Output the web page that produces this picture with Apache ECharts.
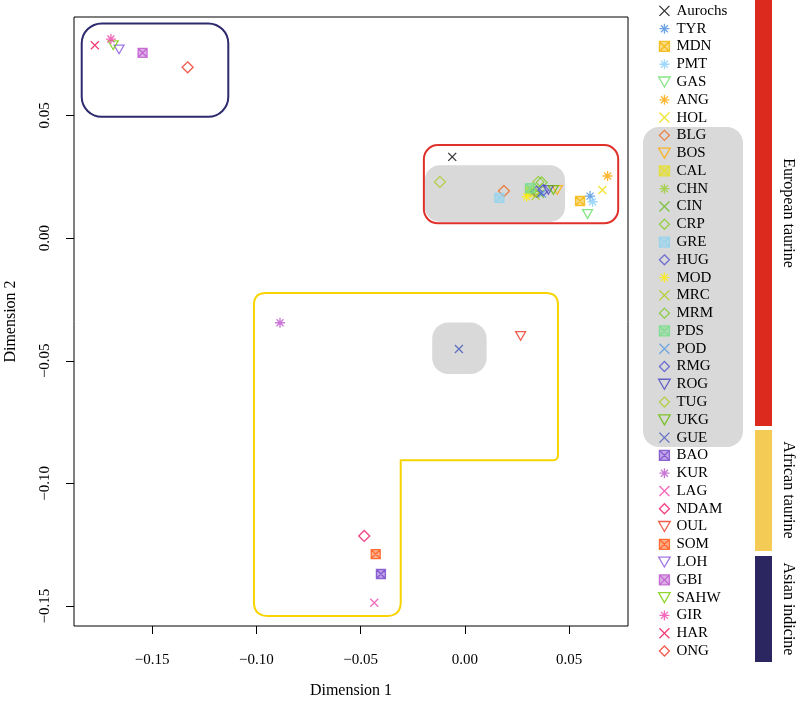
<!DOCTYPE html>
<html><head><meta charset="utf-8">
<script src="https://cdn.jsdelivr.net/npm/echarts@6/dist/echarts.min.js"></script>
<style>html,body{margin:0;padding:0;background:#fff}#c{width:797px;height:702px}</style>
</head><body><div id="c"></div>
<script>
// ---------- data ----------
const breeds = ['Aurochs','TYR','MDN','PMT','GAS','ANG','HOL','BLG','BOS','CAL','CHN','CIN','CRP','GRE','HUG','MOD','MRC','MRM','PDS','POD','RMG','ROG','TUG','UKG','GUE','BAO','KUR','LAG','NDAM','OUL','SOM','LOH','GBI','SAHW','GIR','HAR','ONG'];
const dim1 = [-0.0061,0.0600,0.0552,0.0612,0.0588,0.0684,0.0659,0.0187,0.0443,0.0312,0.0330,0.0360,0.0352,0.0165,0.0344,0.0296,0.0340,0.0368,0.0312,0.0370,0.0376,0.0400,-0.0120,0.0424,-0.0029,-0.0403,-0.0887,-0.0435,-0.0483,0.0267,-0.0428,-0.1659,-0.1546,-0.1687,-0.1698,-0.1775,-0.1330];
const dim2 = [0.0331,0.0171,0.0151,0.0148,0.0098,0.0253,0.0196,0.0192,0.0196,0.0190,0.0190,0.0180,0.0229,0.0164,0.0189,0.0168,0.0172,0.0227,0.0203,0.0182,0.0196,0.0196,0.0229,0.0196,-0.0452,-0.1369,-0.0345,-0.1486,-0.1214,-0.0399,-0.1288,0.0769,0.0755,0.0786,0.0811,0.0786,0.0696];
const shapes = ['cross','star','boxx','star','tri','star','cross','diam','tri','boxx','star','cross','diam','boxx','diam','star','cross','diam','boxx','cross','diam','tri','diam','tri','cross','boxx','star','cross','diam','tri','boxx','tri','boxx','tri','star','cross','diam'];
const colors = ['#000000','#4a8fe0','#f5b400','#87cefa','#66dd66','#ffa500','#eedd00','#ee6a20','#ffaa00','#e6e020','#9acd32','#66bb22','#88cc22','#8fd3f0','#5555cc','#ffee00','#aacc00','#77cc22','#77dd88','#5599dd','#5555cc','#4444bb','#aacc22','#66bb00','#4455bb','#7744cc','#bb55cc','#ee44aa','#ee1166','#ee3322','#ff5511','#8855dd','#bb55cc','#77cc00','#ee44aa','#ee1155','#ee3322'];
const xTicks = [-0.15,-0.10,-0.05,0,0.05];
const yTicks = [-0.15,-0.10,-0.05,0,0.05];
const groupLabels = ['European taurine','African taurine','Asian indicine'];

// ---------- styling ----------
const FONT = 'Liberation Serif';
const X_MIN = -0.1875, X_MAX = 0.0782, Y_MIN = -0.1581, Y_MAX = 0.0901;
const SYMBOLS = {
  cross: 'path://M0 0L10 10M0 10L10 0',
  star: 'path://M0 5L10 5M5 0L5 10M1.5 1.5L8.5 8.5M1.5 8.5L8.5 1.5',
  boxx: 'path://M0 0L10 0L10 10L0 10ZM0 0L10 10M0 10L10 0',
  tri: 'path://M0 0L10 0L5 8.66Z',
  diam: 'path://M5 0L10 5L5 10L0 5Z'
};
const SIZES = {cross:8, star:10, boxx:9, tri:10, diam:11};
const fmt = v => (v < 0 ? '\u2212' : '') + Math.abs(v).toFixed(2);

const option = {
  animation: false,
  grid: {left:74, right:169, top:17, bottom:76, show:true, borderColor:'#000', borderWidth:1, backgroundColor:'transparent', z:0, outerBoundsMode:'none', containLabel:false},
  xAxis: {type:'value', min:X_MIN, max:X_MAX, splitLine:{show:false}, axisLine:{show:false, onZero:false},
    axisTick:{show:true, inside:false, length:8, customValues:xTicks, lineStyle:{color:'#000'}},
    axisLabel:{customValues:xTicks, formatter:fmt, margin:27, fontFamily:FONT, fontSize:15, color:'#000'},
    name:'Dimension 1', nameLocation:'middle', nameGap:57, nameTextStyle:{fontFamily:FONT, fontSize:16, color:'#000'}},
  yAxis: {type:'value', min:Y_MIN, max:Y_MAX, splitLine:{show:false}, axisLine:{show:false, onZero:false},
    axisTick:{show:true, inside:false, length:8, customValues:yTicks, lineStyle:{color:'#000'}},
    axisLabel:{customValues:yTicks, formatter:fmt, rotate:90, margin:21, fontFamily:FONT, fontSize:15, color:'#000'},
    name:'Dimension 2', nameLocation:'middle', nameGap:55, nameTextStyle:{fontFamily:FONT, fontSize:16, color:'#000'}},
  legend: {orient:'vertical', left:658, top:2, padding:0, itemGap:0, itemWidth:14, itemHeight:10, selectedMode:false,
    textStyle:{fontFamily:FONT, fontSize:15, color:'#000', lineHeight:17.78}, itemStyle:{borderWidth:1.3}, data:breeds, z:5},
  series: breeds.map((b,i)=>({
    type:'scatter', name:b, data:[[dim1[i], dim2[i]]],
    symbol:SYMBOLS[shapes[i]], symbolSize:SIZES[shapes[i]], symbolKeepAspect:true,
    itemStyle:{color: shapes[i]==='boxx' ? colors[i]+'99' : 'rgba(0,0,0,0)', borderColor:colors[i], borderWidth:1.3},
    emphasis:{disabled:true}, z:5
  }))
};

const chart = echarts.init(document.getElementById('c'), null, {renderer:'canvas'});
chart.setOption(option);

// ---------- annotation shapes (data coords) ----------
function px(p){ return chart.convertToPixel({gridIndex:0}, p); }
function roundedPoints(pts, radii){
  const n = pts.length, out = [];
  for (let i=0;i<n;i++){
    const p = pts[i], a = pts[(i-1+n)%n], b = pts[(i+1)%n], r = radii[i];
    if (!r){ out.push([p[0],p[1]]); continue; }
    const da = Math.hypot(a[0]-p[0], a[1]-p[1]), db = Math.hypot(b[0]-p[0], b[1]-p[1]);
    const s = [p[0]+(a[0]-p[0])*r/da, p[1]+(a[1]-p[1])*r/da];
    const e = [p[0]+(b[0]-p[0])*r/db, p[1]+(b[1]-p[1])*r/db];
    const N = 10;
    for (let k=0;k<=N;k++){
      const t = k/N, u = 1-t;
      out.push([u*u*s[0]+2*u*t*p[0]+t*t*e[0], u*u*s[1]+2*u*t*p[1]+t*t*e[1]]);
    }
  }
  return out;
}
function rr(x1,y1,x2,y2,r){
  const a = px([x1,y1]), b = px([x2,y2]);
  return {x:Math.min(a[0],b[0]), y:Math.min(a[1],b[1]), width:Math.abs(b[0]-a[0]), height:Math.abs(b[1]-a[1]), r:r};
}

const graphics = [];
// gray fills
graphics.push({type:'rect', z:1, shape: rr(-0.0192,0.0297,0.0480,0.0066,15), style:{fill:'#d9d9d9'}});
graphics.push({type:'rect', z:1, shape: rr(-0.0157,-0.0344,0.0104,-0.0554,16), style:{fill:'#d9d9d9'}});
// outlines
graphics.push({type:'rect', z:2, shape: rr(-0.1838,0.0875,-0.1135,0.0494,20), style:{fill:null, stroke:'#2e2a6e', lineWidth:2}});
graphics.push({type:'rect', z:2, shape: rr(-0.0197,0.0379,0.0735,0.0060,14), style:{fill:null, stroke:'#e0302a', lineWidth:2}});
const yellowPts = [[-0.1012,-0.0224],[0.0446,-0.0224],[0.0446,-0.0905],[-0.0308,-0.0905],[-0.0308,-0.1540],[-0.1012,-0.1540]].map(px);
graphics.push({type:'polygon', z:2, shape:{points: roundedPoints(yellowPts,[12,12,5,0,14,14])}, style:{fill:null, stroke:'#f7d400', lineWidth:2}});
// legend gray box
graphics.push({type:'rect', z:1, shape:{x:643, y:127, width:100, height:320, r:16}, style:{fill:'#d9d9d9'}});
// group bars
graphics.push({type:'rect', z:1, shape:{x:755, y:0, width:17, height:426}, style:{fill:'#dc2a1e'}});
graphics.push({type:'rect', z:1, shape:{x:755, y:430, width:17, height:121}, style:{fill:'#f4cc55'}});
graphics.push({type:'rect', z:1, shape:{x:755, y:556, width:17, height:106}, style:{fill:'#2b2660'}});
const labelY = [213, 490, 609];
groupLabels.forEach((t,i)=>{
  graphics.push({type:'text', z:3, x:788, y:labelY[i], rotation:-Math.PI/2,
    style:{text:t, fontFamily:FONT, fontSize:16, fill:'#000', align:'center', verticalAlign:'middle'}});
});
chart.setOption({graphic: graphics});
</script>
</body></html>
